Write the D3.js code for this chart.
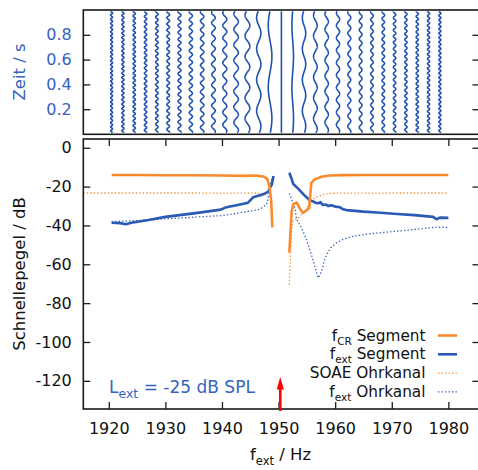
<!DOCTYPE html>
<html>
<head>
<meta charset="utf-8">
<script src="https://cdn.jsdelivr.net/npm/d3@7"></script>
<style>
  body { margin: 0; background: #fff; }
  svg { display: block; }
  text { font-family: "DejaVu Sans", sans-serif; }
</style>
</head>
<body>
<svg width="478" height="470"></svg>
<script>
// top panel: one time trace per external tone (centre, wiggle amplitude in Hz, beat cycles per second)
const traceFreqs = [1920.5, 1922.5, 1924.5, 1926.5, 1928.5, 1930.5, 1932.5, 1934.5, 1936.5, 1938.5,
                    1940.5, 1942.5, 1944.5, 1946.5, 1948.5, 1950.5, 1952.5, 1954.5, 1956.5, 1958.5,
                    1960.5, 1962.5, 1964.5, 1966.5, 1968.5, 1970.5, 1972.5, 1974.5, 1976.5, 1978.5];
const traceAmps = [0.17, 0.19, 0.2, 0.21, 0.22, 0.24, 0.26, 0.28, 0.3, 0.32,
                   0.35, 0.4, 0.42, 0.38, 0.32, 0.06, 0.14, 0.3, 0.32, 0.3,
                   0.28, 0.26, 0.24, 0.23, 0.22, 0.21, 0.2, 0.2, 0.19, 0.18];
const traceBeats = [30, 28, 26, 24, 22, 20, 18, 16, 14, 12,
                    10, 8, 6, 4, 2, 0, 2, 4, 6, 8,
                    10, 12, 14, 16, 18, 20, 22, 24, 26, 28];

// bottom panel, null = gap around the SOAE
const crFreq  = [1920.5, 1925, 1930, 1935, 1940, 1944, 1946, 1947.3, 1948, 1948.4, 1948.7, 1948.9, 1950,
                 1951.9, 1952.3, 1952.6, 1953.2, 1953.8, 1954.3, 1954.9, 1955.4, 1955.8, 1956.4, 1957.6, 1959, 1961.4, 1965, 1970, 1975, 1980];
const crLevel = [-14, -14, -14.2, -14.2, -14.3, -14.5, -14.3, -14.8, -16, -20, -27.4, -41, null,
                 -54, -33, -29, -28.2, -31.5, -33.5, -32.3, -31, -18, -16.3, -14.9, -14.3, -14.1, -14, -14, -14, -14];

const extFreq  = [1920.5, 1922, 1923, 1924, 1927, 1930, 1935, 1939.5, 1940, 1940.8, 1943, 1944.6, 1945.5, 1947.3, 1948.2, 1948.5, 1948.8, 1949.1, 1950,
                  1951.9, 1952.3, 1952.6, 1953.5, 1954.4, 1955.5, 1956, 1956.5, 1957, 1957.4, 1957.8, 1958.3, 1958.8, 1959.3, 1960, 1960.8, 1961.4,
                  1962, 1965, 1968, 1971, 1974, 1977.3, 1977.9, 1978.5, 1980];
const extLevel = [-38.6, -38.8, -39.4, -38.6, -37.2, -35.6, -33.8, -32, -31.6, -30.6, -29.3, -28.3, -25.5, -24, -22.6, -20.5, -19, -14.6, null,
                  -12.9, -16, -18.7, -21.2, -24, -27, -27.5, -28.3, -28.6, -28, -29.5, -29.2, -30, -29.6, -30.3, -30.6, -31.7,
                  -32.1, -32.9, -33.5, -34.1, -34.7, -35.6, -36.8, -36, -36.1];

const soaeFreq  = [1915.5, 1925, 1935, 1945, 1948.2, 1948.6, 1948.9, 1950,
                   1951.9, 1952.1, 1952.3, 1952.6, 1953.5, 1954.7, 1955.5, 1956.4, 1957.9, 1960, 1970, 1980];
const soaeLevel = [-23.3, -23.3, -23.3, -23.4, -23.5, -24.5, -26, null,
                   -70.5, -57, -42, -37.5, -36, -32.6, -28.3, -25.7, -24, -23.4, -23.3, -23.3];

const canalFreq  = [1920.5, 1925, 1930, 1935, 1940, 1943.2, 1946.7, 1947.9, 1948.3, 1948.6, 1948.8, 1950,
                    1951.9, 1952.4, 1952.9, 1953.2, 1954, 1954.9, 1955.8, 1956.5, 1957, 1957.2, 1957.6, 1958, 1958.5,
                    1959.2, 1960.2, 1961.5, 1963.2, 1965.5, 1967.9, 1970, 1973.8, 1977.9, 1980];
const canalLevel = [-38, -37.5, -36.6, -35.8, -34.9, -33.5, -31.7, -29.1, -24, -18.5, -16, null,
                    -23.5, -27, -31, -37, -41, -47, -55, -62, -67, -66, -63.6, -59, -55,
                    -51.5, -49, -47, -45.5, -44.5, -43.8, -43.2, -42.1, -40.9, -41.1];

const xTicks = [1920, 1930, 1940, 1950, 1960, 1970, 1980];
const yTicks = [0, -20, -40, -60, -80, -100, -120];
const timeTicks = [0.2, 0.4, 0.6, 0.8];

const arrowFreq = 1950.3;
const arrowTip = -118;

const orange = "#fb8a2e";
const blue = "#2a5ab5";
const textBlue = "#3563c0";
const frameColor = "#1a1a1a";

const svg = d3.select("svg");

// scales
const x = d3.scaleLinear().domain([1915.5, 1985.5]).range([83.3, 479.5]);
const t = d3.scaleLinear().domain([0, 1]).range([134, 10]);
const y = d3.scaleLinear().domain([-134.5, 4.5]).range([409, 139]);

const topBox = { top: 10, bottom: 134.3 };
const botBox = { top: 139, bottom: 409 };

// top panel traces
const times = d3.range(0.01, 0.9901, 0.0015);
const traceLine = d3.line().x(d => d[0]).y(d => d[1]);
svg.append("g").selectAll("path")
  .data(traceFreqs.map((f, i) => ({ f: f, a: traceAmps[i], b: traceBeats[i] })))
  .enter().append("path")
    .attr("fill", "none")
    .attr("stroke", "#1f52b0")
    .attr("stroke-width", 1.6)
    .attr("d", d => traceLine(times.map(tt => [x(d.f + d.a * Math.sin(2 * Math.PI * d.b * tt)), t(tt)])));

// bottom panel series
const levelLine = d3.line()
  .defined(d => d[1] !== null)
  .x(d => x(d[0]))
  .y(d => y(d[1]));

function drawSeries(freqs, levels, color, width, dash) {
  svg.append("path")
    .datum(freqs.map((f, i) => [f, levels[i]]))
    .attr("fill", "none")
    .attr("stroke", color)
    .attr("stroke-width", width)
    .attr("stroke-dasharray", dash)
    .attr("stroke-linejoin", "round")
    .attr("d", levelLine);
}

drawSeries(soaeFreq, soaeLevel, orange, 1.3, "1.3,2.2");
drawSeries(canalFreq, canalLevel, blue, 1.3, "1.3,2.2");
drawSeries(extFreq, extLevel, blue, 2.6, null);
drawSeries(crFreq, crLevel, orange, 2.6, null);

// frames
[topBox, botBox].forEach(b => {
  svg.append("rect")
    .attr("x", 83.3).attr("y", b.top)
    .attr("width", 479.5 - 83.3).attr("height", b.bottom - b.top)
    .attr("fill", "none").attr("stroke", frameColor).attr("stroke-width", 1.6);
});

function styleAxis(g) {
  g.select(".domain").remove();
  g.selectAll(".tick line").attr("stroke", frameColor).attr("stroke-width", 1.3);
  g.selectAll("text").attr("font-size", 16).attr("font-family", "DejaVu Sans, sans-serif");
}

// plain hyphen for negatives, as in the reference
const plain = d => String(d);

// axes, ticks pointing inward
svg.append("g").attr("transform", `translate(0,${botBox.bottom})`)
  .call(d3.axisBottom(x).tickValues(xTicks).tickSize(-7).tickPadding(14).tickFormat(plain))
  .call(styleAxis)
  .call(g => g.selectAll("text").attr("fill", "#111"));

svg.append("g").attr("transform", `translate(0,${botBox.top})`)
  .call(d3.axisTop(x).tickValues(xTicks).tickSize(-7).tickFormat(""))
  .call(styleAxis);

svg.append("g").attr("transform", "translate(83.3,0)")
  .call(d3.axisLeft(y).tickValues(yTicks).tickSize(-7).tickPadding(11.5).tickFormat(plain))
  .call(styleAxis)
  .call(g => g.selectAll("text").attr("fill", "#111"));

svg.append("g").attr("transform", "translate(479.5,0)")
  .call(d3.axisRight(y).tickValues(yTicks).tickSize(-7).tickFormat(""))
  .call(styleAxis);

svg.append("g").attr("transform", "translate(83.3,0)")
  .call(d3.axisLeft(t).tickValues(timeTicks).tickSize(-7).tickPadding(11.5).tickFormat(d3.format(".1f")))
  .call(styleAxis)
  .call(g => g.selectAll("text").attr("fill", textBlue));

svg.append("g").attr("transform", "translate(479.5,0)")
  .call(d3.axisRight(t).tickValues(timeTicks).tickSize(-7).tickFormat(""))
  .call(styleAxis);

// axis titles
svg.append("text")
  .attr("transform", "translate(25,72) rotate(-90)")
  .attr("text-anchor", "middle")
  .attr("font-size", 16.5)
  .attr("fill", textBlue)
  .text("Zeit / s");

svg.append("text")
  .attr("transform", "translate(25,274) rotate(-90)")
  .attr("text-anchor", "middle")
  .attr("font-size", 16.5)
  .attr("fill", "#111")
  .text("Schnellepegel / dB");

const xTitle = svg.append("text")
  .attr("x", 250).attr("y", 460)
  .attr("font-size", 16.5)
  .attr("fill", "#111");
xTitle.append("tspan").text("f");
xTitle.append("tspan").attr("font-size", 11.5).attr("dy", 5).text("ext");
xTitle.append("tspan").attr("dy", -5).text(" / Hz");

// level annotation
const note = svg.append("text")
  .attr("x", 109).attr("y", 393)
  .attr("font-size", 17)
  .attr("fill", textBlue);
note.append("tspan").text("L");
note.append("tspan").attr("font-size", 12.5).attr("dy", 5).text("ext");
note.append("tspan").attr("dy", -5).text(" = -25 dB SPL");

// stimulus arrow
const ax = x(arrowFreq);
svg.append("line")
  .attr("x1", ax).attr("x2", ax)
  .attr("y1", botBox.bottom + 2).attr("y2", y(arrowTip) + 8)
  .attr("stroke", "#f00").attr("stroke-width", 2.6);
svg.append("path")
  .attr("d", `M${ax},${y(arrowTip)} L${ax - 3.6},${y(arrowTip) + 12.5} L${ax + 3.6},${y(arrowTip) + 12.5} Z`)
  .attr("fill", "#f00");

// legend
const legendItems = [
  { main: "f", sub: "CR", rest: " Segment", color: orange, width: 2.6, dash: null },
  { main: "f", sub: "ext", rest: " Segment", color: blue, width: 2.6, dash: null },
  { main: "SOAE Ohrkanal", sub: "", rest: "", color: orange, width: 1.3, dash: "1.3,2.2" },
  { main: "f", sub: "ext", rest: " Ohrkanal", color: blue, width: 1.3, dash: "1.3,2.2" }
];
const legend = svg.append("g");
legendItems.forEach((d, i) => {
  const by = 340.5 + i * 18.8;
  const txt = legend.append("text")
    .attr("x", 425.5).attr("y", by)
    .attr("text-anchor", "end")
    .attr("font-size", 15.3)
    .attr("fill", "#111");
  txt.append("tspan").text(d.main);
  if (d.sub) {
    txt.append("tspan").attr("font-size", 10.5).attr("dy", 4).text(d.sub);
    txt.append("tspan").attr("dy", -4).text(d.rest);
  }
  legend.append("line")
    .attr("x1", 438).attr("x2", 457)
    .attr("y1", by - 5).attr("y2", by - 5)
    .attr("stroke", d.color)
    .attr("stroke-width", d.width)
    .attr("stroke-dasharray", d.dash);
});
</script>
</body>
</html>
